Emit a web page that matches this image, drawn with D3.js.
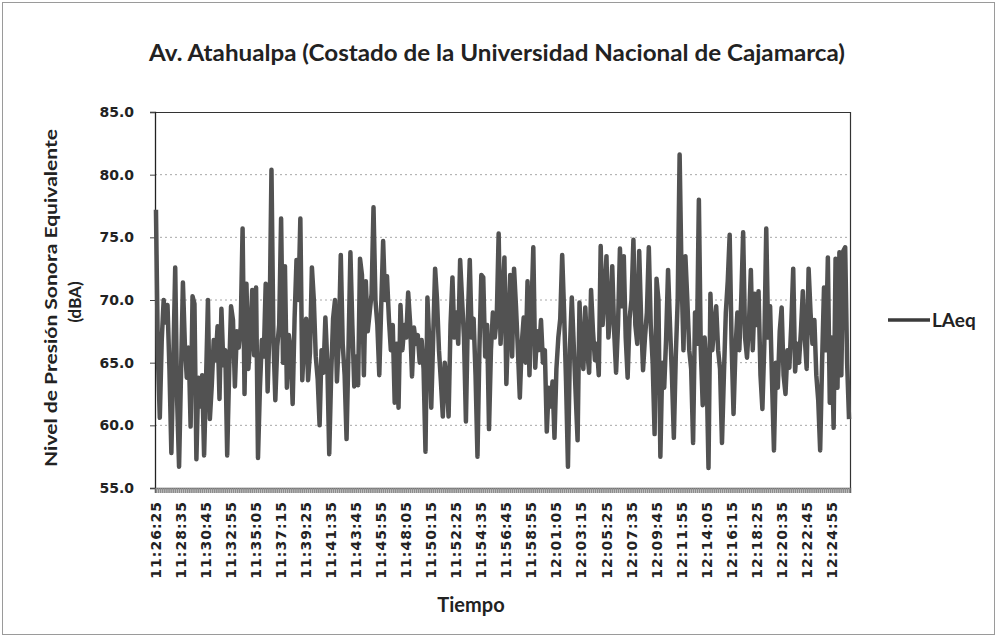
<!DOCTYPE html>
<html>
<head>
<meta charset="utf-8">
<script src="https://cdn.jsdelivr.net/npm/d3@7"></script>
<style>
  body { margin: 0; background: #fff; }
  svg { display: block; }
</style>
</head>
<body>
<svg id="chart" width="997" height="638"></svg>
<script>
// ---- data (one value every 10 s) ----
const seriesName = 'LAeq';
const startTime = '11:26:25';
const stepSeconds = 10;

const laeq = [
  77.2,65.5,60.6,66.8,70.0,68.2,69.6,64.5,57.8,65.0,
  72.6,62.0,56.7,64.0,71.4,66.5,63.8,66.2,59.9,70.3,
  69.7,57.3,63.8,61.5,64.0,57.6,63.5,70.0,60.5,63.2,
  66.8,65.2,67.9,62.1,69.3,64.8,66.0,57.6,64.2,69.5,
  68.4,63.1,67.5,66.2,67.8,75.7,62.5,71.3,64.5,67.0,
  70.8,65.6,71.0,57.4,63.0,66.8,65.5,71.3,62.7,68.0,
  80.4,67.0,62.0,66.3,68.0,76.5,65.0,72.7,63.0,67.2,
  66.0,61.7,68.5,73.2,70.0,76.5,63.6,67.0,68.5,63.6,
  65.8,72.6,70.0,65.5,63.7,60.0,66.0,64.2,68.6,65.0,
  57.7,64.0,68.5,70.0,63.5,67.0,73.6,66.5,64.0,58.9,
  66.0,73.8,68.0,63.1,65.5,63.2,73.3,72.0,64.0,71.5,
  67.5,69.0,70.5,77.4,70.0,68.0,64.0,69.5,74.7,70.0,
  71.9,68.5,66.0,68.0,61.8,66.5,61.4,69.6,66.0,68.0,
  67.0,70.6,68.2,63.9,67.8,66.5,67.2,65.0,66.8,64.5,
  57.9,70.2,66.5,61.4,67.0,72.5,70.0,66.0,63.5,60.7,
  65.0,63.5,60.7,68.0,71.8,67.0,69.0,66.5,73.2,70.0,
  67.0,60.3,68.5,73.2,67.0,68.5,64.0,57.5,66.0,72.0,
  71.8,65.5,68.0,59.7,66.0,69.0,67.0,68.5,75.3,66.5,
  70.0,73.4,63.3,68.0,72.0,65.5,72.5,69.5,66.0,62.2,
  66.5,68.6,65.0,71.5,64.0,69.0,74.2,64.6,67.5,66.0,
  68.4,65.0,66.0,59.5,63.0,61.5,63.5,59.0,64.5,67.0,
  68.5,73.6,69.0,63.5,56.7,66.0,70.2,66.4,62.5,58.8,
  69.8,66.0,64.5,69.4,66.0,64.2,70.8,67.5,65.2,66.5,
  64.0,74.3,68.0,70.5,73.5,67.0,69.0,72.7,67.5,64.2,
  68.0,74.1,69.5,73.5,67.0,63.8,68.5,70.0,74.8,68.0,
  66.5,73.9,68.5,64.4,67.0,69.0,74.2,68.0,65.0,59.3,
  71.7,70.0,57.5,65.0,63.0,67.0,72.4,68.0,64.0,59.0,
  65.5,70.0,81.6,72.0,66.0,73.5,70.0,66.0,64.5,58.6,
  69.0,66.5,78.0,66.0,61.6,67.0,64.5,56.6,70.5,66.0,
  68.0,69.5,66.0,64.5,58.6,64.0,69.0,71.5,75.2,66.5,
  60.9,66.0,69.0,66.0,70.0,75.4,67.0,65.4,68.0,72.4,
  66.0,70.5,68.0,70.7,64.0,61.3,66.5,75.7,67.0,69.5,
  63.5,58.0,65.0,63.0,67.5,69.4,64.0,62.5,66.0,64.6,
  68.0,72.5,64.3,66.5,65.0,67.5,70.7,67.0,64.5,72.5,
  69.0,66.5,68.4,64.0,62.0,58.0,65.0,71.0,66.0,73.4,
  61.8,67.0,59.8,73.3,63.0,73.8,64.0,73.9,74.2,65.0,60.5
];

const tickLabels = [
  '11:26:25','11:28:35','11:30:45','11:32:55','11:35:05','11:37:15','11:39:25',
  '11:41:35','11:43:45','11:45:55','11:48:05','11:50:15','11:52:25','11:54:35',
  '11:56:45','11:58:55','12:01:05','12:03:15','12:05:25','12:07:35','12:09:45',
  '12:11:55','12:14:05','12:16:15','12:18:25','12:20:35','12:22:45','12:24:55'
];

const yTicks = [55, 60, 65, 70, 75, 80, 85];

// category labels (one per reading)
const parseT = d3.timeParse('%H:%M:%S');
const fmtT = d3.timeFormat('%H:%M:%S');
const t0 = parseT(startTime);
const categories = laeq.map((d, i) => fmtT(d3.timeSecond.offset(t0, i * stepSeconds)));

// ---- layout ----
const width = 997, height = 638;
const plot = {left: 155, right: 850, top: 112, bottom: 488};

const svg = d3.select('#chart');

// chart frame
svg.append('rect')
    .attr('x', 2.5).attr('y', 2.5)
    .attr('width', width - 5).attr('height', 632)
    .attr('fill', '#fff')
    .attr('stroke', '#9a9a9a')
    .attr('stroke-width', 1);

const x = d3.scalePoint()
    .domain(d3.range(laeq.length))
    .range([plot.left, plot.right])
    .padding(0.5);

const y = d3.scaleLinear()
    .domain([55, 85])
    .range([plot.bottom, plot.top]);

// gridlines
svg.append('g')
    .selectAll('line')
    .data(yTicks.filter(d => d > 55 && d < 85))
    .enter()
    .append('line')
    .attr('x1', plot.left).attr('x2', plot.right)
    .attr('y1', d => y(d)).attr('y2', d => y(d))
    .attr('stroke', '#a8a8a8')
    .attr('stroke-dasharray', '2,3')
    .attr('stroke-width', 1);

// top + right border of plot area
svg.append('path')
    .attr('d', `M${plot.left},${plot.top + 0.5}H${plot.right + 0.5}V${plot.bottom}`)
    .attr('fill', 'none')
    .attr('stroke', '#333')
    .attr('stroke-width', 1.2);

// y axis
const yAxis = svg.append('g')
    .attr('transform', `translate(${plot.left},0)`)
    .call(d3.axisLeft(y).tickValues(yTicks).tickSize(5).tickFormat(d3.format('.1f')));
yAxis.select('.domain').attr('stroke', '#222').attr('stroke-width', 1.3);
yAxis.selectAll('.tick line').attr('stroke', '#444');
yAxis.selectAll('text')
    .attr('x', -21)
    .style('font-family', '"DejaVu Sans", sans-serif')
    .style('font-weight', 'bold')
    .style('font-size', '14px')
    .attr('fill', '#222');

// x axis: a tick on every reading makes the grey band under the plot
const xAxis = svg.append('g')
    .attr('transform', `translate(0,${plot.bottom})`)
    .call(d3.axisBottom(x).tickValues(x.domain()).tickSize(5).tickFormat(''));
xAxis.select('.domain').attr('stroke', '#555').attr('stroke-width', 1.5);
xAxis.selectAll('.tick line').attr('stroke', '#8c8c8c').attr('stroke-width', 1.6);

// rotated time labels
svg.append('g')
    .selectAll('text')
    .data(tickLabels)
    .enter()
    .append('text')
    .attr('transform', d => `translate(${x(categories.indexOf(d))},501) rotate(-90)`)
    .attr('dy', '0.36em')
    .attr('text-anchor', 'end')
    .style('font-family', '"DejaVu Sans", sans-serif')
    .style('font-weight', 'bold')
    .style('font-size', '14px')
    .style('letter-spacing', '1px')
    .attr('fill', '#222')
    .text(d => d);

// series line
const line = d3.line()
    .x((d, i) => x(i))
    .y(d => y(d));

svg.append('path')
    .datum(laeq)
    .attr('d', line)
    .attr('fill', 'none')
    .attr('stroke', '#525252')
    .attr('stroke-width', 4.5)
    .attr('stroke-linejoin', 'round');

// title
svg.append('text')
    .attr('x', 497).attr('y', 61)
    .attr('text-anchor', 'middle')
    .attr('textLength', 696)
    .attr('lengthAdjust', 'spacingAndGlyphs')
    .style('font-family', 'Lato, sans-serif')
    .style('font-weight', 'bold')
    .style('font-size', '23px')
    .attr('fill', '#222')
    .text('Av. Atahualpa (Costado de la Universidad  Nacional de Cajamarca)');

// y axis title (two lines)
const yTitle = svg.append('g')
    .attr('transform', 'translate(0,298) rotate(-90)')
    .style('font-family', 'Lato, sans-serif')
    .style('font-weight', 'bold')
    .style('font-size', '17px')
    .attr('fill', '#222');
yTitle.append('text')
    .attr('x', 0).attr('y', 57)
    .attr('text-anchor', 'middle')
    .attr('textLength', 338)
    .attr('lengthAdjust', 'spacingAndGlyphs')
    .text('Nivel  de Presión Sonora Equivalente');
yTitle.append('text')
    .attr('x', -4).attr('y', 81)
    .attr('text-anchor', 'middle')
    .text('(dBA)');

// x axis title
svg.append('text')
    .attr('x', 471).attr('y', 612)
    .attr('text-anchor', 'middle')
    .style('font-family', 'Lato, sans-serif')
    .style('font-weight', 'bold')
    .style('font-size', '20px')
    .attr('fill', '#222')
    .text('Tiempo');

// legend
const legend = svg.append('g').attr('transform', 'translate(888,320)');
legend.append('line')
    .attr('x1', 0).attr('x2', 42)
    .attr('stroke', '#3a3a3a')
    .attr('stroke-width', 3.5);
legend.append('text')
    .attr('x', 44).attr('y', 0)
    .attr('dy', '0.35em')
    .style('font-family', 'Lato, sans-serif')
    .style('font-weight', 'bold')
    .style('font-size', '19px')
    .attr('fill', '#222')
    .text(seriesName);
</script>
</body>
</html>
